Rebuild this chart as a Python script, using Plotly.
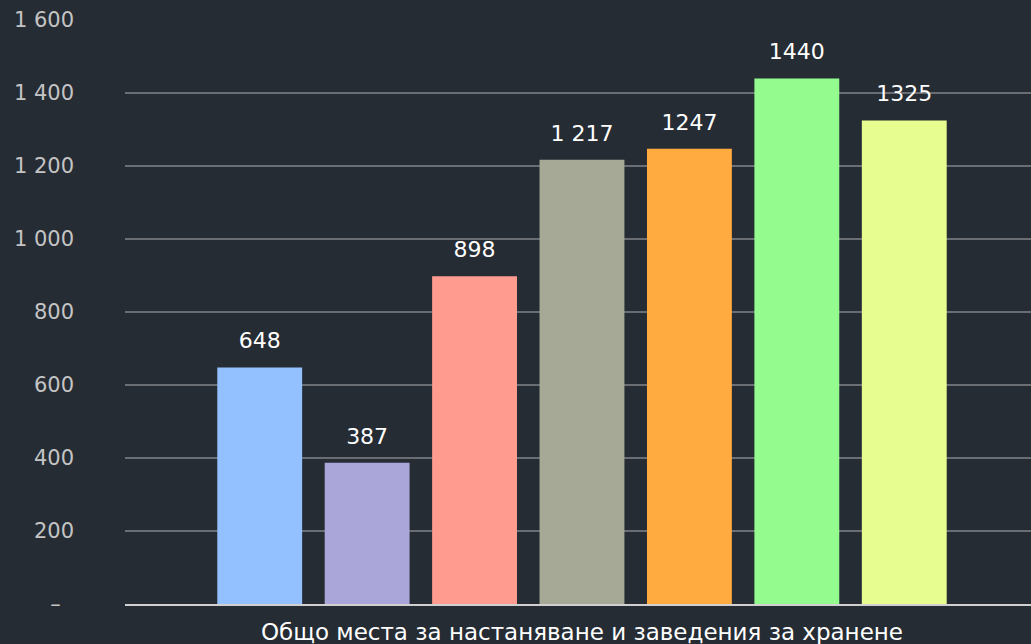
import plotly.graph_objects as go

category = ["Общо места за настаняване и заведения за хранене"]
series_names = ["S1", "S2", "S3", "S4", "S5", "S6", "S7"]
values = [648, 387, 898, 1217, 1247, 1440, 1325]
value_labels = ["648", "387", "898", "1 217", "1247", "1440", "1325"]
colors = ["#93c1ff", "#aaa6d9", "#ff9c8f", "#a6a996", "#ffab40", "#94fc8f", "#e8fd8f"]
y_tickvals = [0, 200, 400, 600, 800, 1000, 1200, 1400, 1600]
y_ticktext = ["–  ", "200", "400", "600", "800", "1 000", "1 200", "1 400", "1 600"]

BG = "#262c34"
FONT = "DejaVu Sans"

fig = go.Figure()
for name, v, c in zip(series_names, values, colors):
    fig.add_trace(go.Bar(
        x=category, y=[v], name=name, marker=dict(color=c, line=dict(width=0)),
        offsetgroup=name,
    ))
for name, v, lab in zip(series_names, values, value_labels):
    fig.add_trace(go.Scatter(
        x=category, y=[v], name=name, mode="markers+text",
        marker=dict(size=20, opacity=0), text=[lab], textposition="top center",
        textfont=dict(color="#ffffff", size=22, family=FONT),
        cliponaxis=False, hoverinfo="skip", offsetgroup=name,
    ))

fig.update_layout(
    width=1031, height=644,
    paper_bgcolor=BG, plot_bgcolor=BG,
    margin=dict(l=125, r=0, t=20, b=40),
    barmode="group", bargap=0.17, bargroupgap=0.21,
    scattermode="group", scattergap=0.17,
    showlegend=False,
    font=dict(family=FONT, color="#c4c4c4", size=21),
    yaxis=dict(
        range=[0, 1600], tickvals=y_tickvals, ticktext=y_ticktext,
        showgrid=True, gridcolor="#6a6d72", gridwidth=1.5,
        zeroline=False, showline=False, ticks="", ticklabelstandoff=50,
        tickfont=dict(size=21, color="#c4c4c4", family=FONT),
    ),
    xaxis=dict(
        range=[-0.5044, 0.4956],
        showline=True, linecolor="#d0d0d0", linewidth=2, ticks="",
        ticklabelstandoff=6,
        tickfont=dict(size=23, color="#ffffff", family=FONT),
    ),
)

fig.write_html(
    "out.html",
    config={"displayModeBar": False},
    post_script="document.body.style.margin='0';document.body.style.overflow='hidden';",
)
